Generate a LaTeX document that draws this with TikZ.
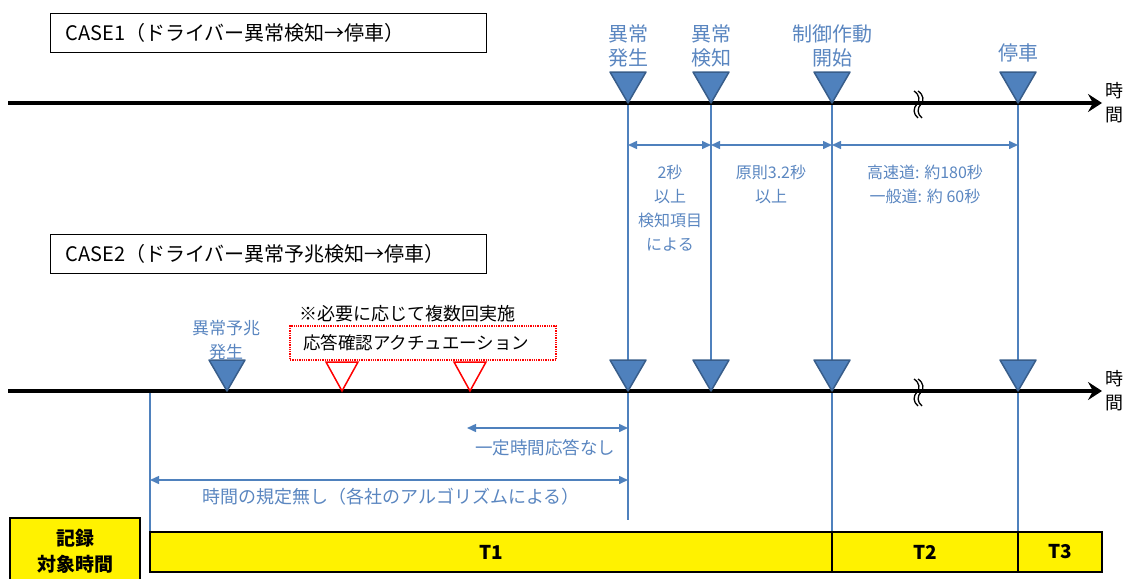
\documentclass[tikz,border=0pt]{standalone}
\usepackage{fontspec}
\setmainfont{Noto Sans CJK JP}
\usetikzlibrary{arrows.meta}
\definecolor{tblue}{HTML}{4F81BD}
\definecolor{tbord}{HTML}{385D8A}
\definecolor{ttext}{HTML}{5A86C0}
\tikzset{
  fs/.style={font=\fontsize{#1}{24}\selectfont},
  tline/.style={line width=4pt, -{Stealth[length=14pt,width=18pt,inset=5pt]}},
  vline/.style={tblue, line width=1.8pt},
  dimarr/.style={tblue, line width=1.5pt, {Triangle[length=9pt,width=8pt]}-{Triangle[length=9pt,width=8pt]}},
  btxt/.style={text=ttext, align=center, inner sep=0pt},
  casebox/.style={draw, line width=1.2pt, minimum height=39pt, text width=406pt, inner xsep=15pt, align=left, fs=20},
  ybar/.style={draw, line width=1.2pt, fill=yellow, minimum height=40pt, inner sep=0pt, font=\fontsize{19}{22}\selectfont\bfseries},
  bmark/.pic={\filldraw[fill=tblue, draw=tbord, line width=1.5pt, line join=round] (-18,-31) -- (18,-31) -- (0,0) -- cycle;},
  rmark/.pic={\draw[red, line width=1.5pt, fill=white] (-16,-29) -- (16,-29) -- (0,0) -- cycle;},
  brk/.pic={\foreach \dx in {-2,2}{
              \draw[line width=1.3pt, shift={(\dx,0)}] (-3,-13) .. controls (3,-9) and (3,-3) .. (0,0) .. controls (-4,4) and (-4,10) .. (1,14);}},
}
\begin{document}
\begin{tikzpicture}[x=1pt,y=-1pt]
\useasboundingbox (0,0) rectangle (1129,578);

% coordinates
\coordinate (L1s) at (8,103);   \coordinate (L1e) at (1102,103);
\coordinate (L2s) at (8,391);   \coordinate (L2e) at (1102,391);
\coordinate (A1) at (628,103);  \coordinate (B1) at (711,103);
\coordinate (C1) at (832,103);  \coordinate (D1) at (1018,103);
\coordinate (A2) at (628,391);  \coordinate (B2) at (711,391);
\coordinate (C2) at (832,391);  \coordinate (D2) at (1018,391);
\coordinate (P2) at (227,391);  \coordinate (R1) at (342,391);  \coordinate (R2) at (470,391);
\coordinate (S2) at (150,391);
\coordinate (Aend) at (628,520);
\coordinate (Cend) at (832,532);
\coordinate (Dend) at (1018,532);
\coordinate (Send) at (150,532);
\coordinate (dA) at (628,145); \coordinate (dB) at (711,145);
\coordinate (dC) at (832,145); \coordinate (dD) at (1018,145);
\coordinate (kS) at (467,428); \coordinate (kE) at (628,428);
\coordinate (mS) at (150,480); \coordinate (mE) at (628,480);

% vertical lines
\draw[vline] (A1) -- (Aend);
\draw[vline] (B1) -- (B2);
\draw[vline] (C1) -- (Cend);
\draw[vline] (D1) -- (Dend);
\draw[vline] (S2) -- (Send);

% timelines
\draw[tline] (L1s) -- (L1e);
\draw[tline] (L2s) -- (L2e);
\pic at (919,104) {brk};
\pic at (919,392) {brk};

% case boxes
\node[casebox, anchor=west] (case1) at (50,33) {CASE1（ドライバー異常検知→停車）};
\node[casebox, anchor=west] (case2) at (50,254) {CASE2（ドライバー異常予兆検知→停車）};

% markers case 1
\pic at (A1) {bmark};
\pic at (B1) {bmark};
\pic at (C1) {bmark};
\pic at (D1) {bmark};
\node[btxt, fs=20, anchor=south] (lA) at (628,67) {異常\\発生};
\node[btxt, fs=20, anchor=south] (lB) at (711,67) {異常\\検知};
\node[btxt, fs=20, anchor=south] (lC) at (832,67) {制御作動\\開始};
\node[btxt, fs=20, anchor=south] (lD) at (1018,62) {停車};
\node[align=center, inner sep=0pt, fs=18] (jk1) at (1114,103) {時\\間};

% dimension arrows
\draw[dimarr] (dA) -- (dB);
\draw[dimarr] (dB) -- (dC);
\draw[dimarr] (dC) -- (dD);
\node[btxt, fs=16] (t1) at (670,208) {2秒\\以上\\検知項目\\による};
\node[btxt, fs=16] (t2) at (771,184) {原則3.2秒\\以上};
\node[btxt, fs=16] (t3) at (925,184) {高速道: 約180秒\\一般道: 約 60秒};

% markers case 2
\pic at (P2) {bmark};
\pic at (R1) {rmark};
\pic at (R2) {rmark};
\pic at (A2) {bmark};
\pic at (B2) {bmark};
\pic at (C2) {bmark};
\pic at (D2) {bmark};
\node[btxt, fs=17, anchor=south] (lP) at (226,360) {異常予兆\\発生};
\node[inner sep=0pt, fs=18] (note) at (407,314) {※必要に応じて複数回実施};
\node[draw=red, densely dotted, line width=1.3pt, minimum width=266pt, minimum height=34pt, text width=240pt, inner xsep=13pt, align=left, fs=17.5] (rbox) at (423,343) {応答確認アクチュエーション};
\node[align=center, inner sep=0pt, fs=18] (jk2) at (1114,391) {時\\間};

% case 2 arrows
\draw[dimarr] (kS) -- (kE);
\node[btxt, fs=17.5] (t4) at (545,448) {一定時間応答なし};
\draw[dimarr] (mS) -- (mE);
\node[btxt, fs=18] (t5) at (391,497) {時間の規定無し（各社のアルゴリズムによる）};

% bars
\node[ybar, minimum width=682pt] (T1) at (491,552) {T1};
\node[ybar, minimum width=186pt] (T2) at (925,552) {T2};
\node[ybar, minimum width=84pt] (T3) at (1060,552) {T3};
\node[draw, line width=1.2pt, fill=yellow, minimum width=130pt, minimum height=66pt, align=center, inner sep=0pt, font=\fontsize{19}{26}\selectfont\bfseries] (rec) at (75,551) {記録\\対象時間};
\end{tikzpicture}
\end{document}
